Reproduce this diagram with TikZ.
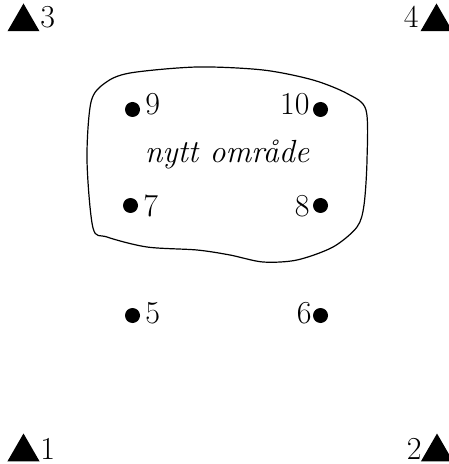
\documentclass[tikz,border=0pt]{standalone}
\usetikzlibrary{shapes.geometric}
\begin{document}
\begin{tikzpicture}[x=0.5pt,y=-0.5pt,
  every node/.style={font=\fontsize{16}{18}\selectfont},
  dot/.style={circle,fill=black,inner sep=0pt,minimum size=7.5pt},
  tri/.style={regular polygon,regular polygon sides=3,fill=black,inner sep=0pt,minimum size=18.5pt},
  lblL/.style={anchor=base west,inner sep=0pt},
  lblR/.style={anchor=base east,inner sep=0pt},
  blob/.style={line width=0.6pt,line join=round}]
\useasboundingbox (0,0) rectangle (448,464);

% region outline
\draw[blob] plot[smooth cycle,tension=0.5] coordinates {
  (87,160) (91,102) (105,83) (130,73) (197,67) (263,70) (313,80)
  (348,94) (366,110) (367,160) (364,205) (357,227) (333,247)
  (297,260) (263,262) (230,255) (197,250) (147,247) (107,237) (93,228)};

% corner markers
\node[tri] (m3) at (23.5,22) {};
\node[lblL] (l3) at (40,28) {3};
\node[tri] (m4) at (436.5,22) {};
\node[lblR] (l4) at (419,28) {4};
\node[tri] (m1) at (23.5,452) {};
\node[lblL] (l1) at (40,459) {1};
\node[tri] (m2) at (437,452) {};
\node[lblR] (l2) at (422,459) {2};

% points
\node[dot] (p9) at (132.5,109.5) {};
\node[lblL] (l9) at (145,115) {9};
\node[dot] (p10) at (320.5,109.5) {};
\node[lblR] (l10) at (310,115) {10};
\node[dot] (p7) at (130.5,205.5) {};
\node[lblL] (l7) at (143,216) {7};
\node[dot] (p8) at (320.5,205.5) {};
\node[lblR] (l8) at (310,216) {8};
\node[dot] (p5) at (132.5,315.5) {};
\node[lblL] (l5) at (145,323) {5};
\node[dot] (p6) at (320.5,315.5) {};
\node[lblR] (l6) at (312,323) {6};

% region name
\node[anchor=base,inner sep=0pt] (name) at (227,163) {\itshape nytt område};
\end{tikzpicture}
\end{document}
